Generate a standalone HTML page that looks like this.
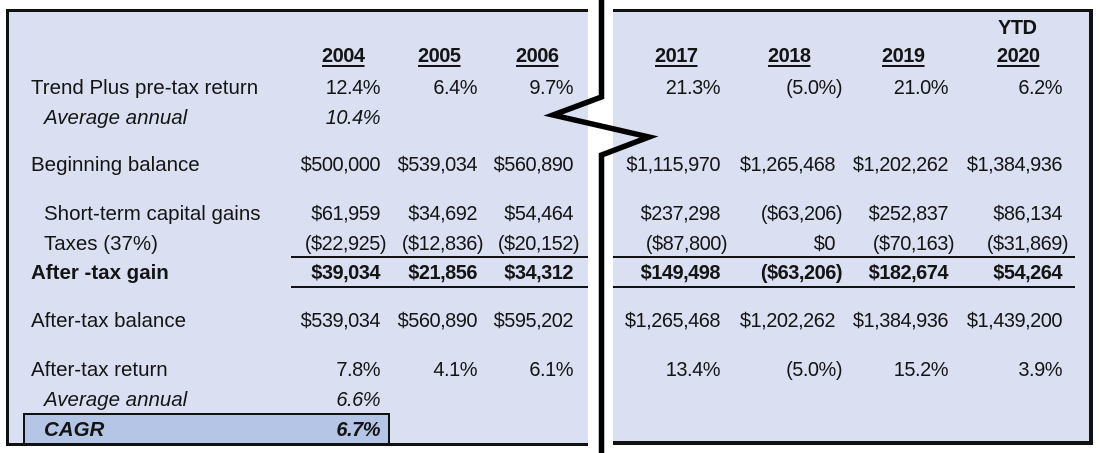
<!DOCTYPE html>
<html><head><meta charset="utf-8">
<style>
html,body{margin:0;padding:0;background:#fff;}
body{width:1100px;height:453px;position:relative;overflow:hidden;font-family:"Liberation Sans",Arial,sans-serif;color:#141414;}
.p{position:absolute;background:#dae0f2;}
.b{position:absolute;background:#111;}
.t{position:absolute;font-size:20.5px;line-height:20px;white-space:nowrap;}
.n{position:absolute;font-size:20px;line-height:20px;white-space:nowrap;letter-spacing:-0.5px;text-align:right;}
.h{position:absolute;font-size:20px;line-height:20px;white-space:nowrap;letter-spacing:-0.5px;font-weight:bold;text-decoration:underline;text-decoration-thickness:2px;text-underline-offset:3px;}
.i{font-style:italic;}
.bd{font-weight:bold;}
</style></head><body>
<!-- left panel -->
<div class="p" style="left:6px;top:9px;width:582px;height:437px;"></div>
<div class="b" style="left:6px;top:9px;width:582px;height:2.5px;"></div>
<div class="b" style="left:6px;top:9px;width:2.5px;height:437px;"></div>
<div class="b" style="left:6px;top:443px;width:582px;height:3px;"></div>
<!-- right panel -->
<div class="p" style="left:613px;top:10px;width:478px;height:433px;"></div>
<div class="b" style="left:613px;top:9px;width:480px;height:2.5px;"></div>
<div class="b" style="left:1089px;top:9px;width:3.5px;height:436px;"></div>
<div class="b" style="left:613px;top:441px;width:480px;height:3.5px;"></div>
<!-- CAGR box -->
<div style="position:absolute;left:23px;top:413px;width:363px;height:28px;background:#b4c5e6;border:2.5px solid #111;border-bottom:none;"></div>
<!-- underlines -->
<div class="b" style="left:291px;top:256px;width:297px;height:2px;"></div>
<div class="b" style="left:291px;top:286px;width:297px;height:2px;"></div>
<div class="b" style="left:613px;top:256px;width:462px;height:2px;"></div>
<div class="b" style="left:613px;top:286px;width:462px;height:2px;"></div>

<!-- headers -->
<div class="h" style="left:322px;top:46px;">2004</div>
<div class="h" style="left:418px;top:46px;">2005</div>
<div class="h" style="left:516px;top:46px;">2006</div>
<div class="h" style="left:655px;top:46px;">2017</div>
<div class="h" style="left:768px;top:46px;">2018</div>
<div class="h" style="left:882px;top:46px;">2019</div>
<div class="h" style="left:997px;top:46px;">2020</div>
<div class="n bd" style="left:998px;top:18px;text-align:left;">YTD</div>

<!-- labels -->
<div class="t" style="left:31px;top:78px;">Trend Plus pre-tax return</div>
<div class="t i" style="left:44px;top:108px;">Average annual</div>
<div class="t" style="left:31px;top:155px;">Beginning balance</div>
<div class="t" style="left:44px;top:204px;">Short-term capital gains</div>
<div class="t" style="left:44px;top:234px;">Taxes (37%)</div>
<div class="t bd" style="left:31px;top:263px;">After -tax gain</div>
<div class="t" style="left:31px;top:311px;">After-tax balance</div>
<div class="t" style="left:31px;top:360px;">After-tax return</div>
<div class="t i" style="left:44px;top:390px;">Average annual</div>
<div class="t i bd" style="left:44px;top:420px;">CAGR</div>

<!-- Trend row (baseline 95) -->
<div class="n" style="right:720px;top:78px;">12.4%</div>
<div class="n" style="right:623px;top:78px;">6.4%</div>
<div class="n" style="right:527px;top:78px;">9.7%</div>
<div class="n" style="right:380px;top:78px;">21.3%</div>
<div class="n" style="right:258px;top:78px;">(5.0%)</div>
<div class="n" style="right:152px;top:78px;">21.0%</div>
<div class="n" style="right:38px;top:78px;">6.2%</div>
<!-- avg -->
<div class="n i" style="right:720px;top:108px;">10.4%</div>

<!-- Beginning (172) -->
<div class="n" style="right:720px;top:155px;">$500,000</div>
<div class="n" style="right:623px;top:155px;">$539,034</div>
<div class="n" style="right:527px;top:155px;">$560,890</div>
<div class="n" style="right:380px;top:155px;">$1,115,970</div>
<div class="n" style="right:265px;top:155px;">$1,265,468</div>
<div class="n" style="right:152px;top:155px;">$1,202,262</div>
<div class="n" style="right:38px;top:155px;">$1,384,936</div>

<!-- Short-term (221) -->
<div class="n" style="right:720px;top:204px;">$61,959</div>
<div class="n" style="right:623px;top:204px;">$34,692</div>
<div class="n" style="right:527px;top:204px;">$54,464</div>
<div class="n" style="right:380px;top:204px;">$237,298</div>
<div class="n" style="right:258px;top:204px;">($63,206)</div>
<div class="n" style="right:152px;top:204px;">$252,837</div>
<div class="n" style="right:38px;top:204px;">$86,134</div>

<!-- Taxes (251) -->
<div class="n" style="right:714px;top:234px;">($22,925)</div>
<div class="n" style="right:617px;top:234px;">($12,836)</div>
<div class="n" style="right:521px;top:234px;">($20,152)</div>
<div class="n" style="right:373px;top:234px;">($87,800)</div>
<div class="n" style="right:265px;top:234px;">$0</div>
<div class="n" style="right:146px;top:234px;">($70,163)</div>
<div class="n" style="right:32px;top:234px;">($31,869)</div>

<!-- Gain (280) -->
<div class="n bd" style="right:720px;top:263px;">$39,034</div>
<div class="n bd" style="right:623px;top:263px;">$21,856</div>
<div class="n bd" style="right:527px;top:263px;">$34,312</div>
<div class="n bd" style="right:380px;top:263px;">$149,498</div>
<div class="n bd" style="right:258px;top:263px;">($63,206)</div>
<div class="n bd" style="right:152px;top:263px;">$182,674</div>
<div class="n bd" style="right:38px;top:263px;">$54,264</div>

<!-- Balance (328) -->
<div class="n" style="right:720px;top:311px;">$539,034</div>
<div class="n" style="right:623px;top:311px;">$560,890</div>
<div class="n" style="right:527px;top:311px;">$595,202</div>
<div class="n" style="right:380px;top:311px;">$1,265,468</div>
<div class="n" style="right:265px;top:311px;">$1,202,262</div>
<div class="n" style="right:152px;top:311px;">$1,384,936</div>
<div class="n" style="right:38px;top:311px;">$1,439,200</div>

<!-- Return (377) -->
<div class="n" style="right:720px;top:360px;">7.8%</div>
<div class="n" style="right:623px;top:360px;">4.1%</div>
<div class="n" style="right:527px;top:360px;">6.1%</div>
<div class="n" style="right:380px;top:360px;">13.4%</div>
<div class="n" style="right:258px;top:360px;">(5.0%)</div>
<div class="n" style="right:152px;top:360px;">15.2%</div>
<div class="n" style="right:38px;top:360px;">3.9%</div>

<div class="n i" style="right:720px;top:390px;">6.6%</div>
<div class="n i bd" style="right:720px;top:420px;">6.7%</div>

<!-- break line -->
<svg style="position:absolute;left:0;top:0;" width="1100" height="453" viewBox="0 0 1100 453">
<polyline points="601.5,-5 601.5,97 553,115 649,137 601.5,155 601.5,460" fill="none" stroke="#000" stroke-width="5.5" stroke-linejoin="miter" stroke-miterlimit="10"/>
</svg>
</body></html>
